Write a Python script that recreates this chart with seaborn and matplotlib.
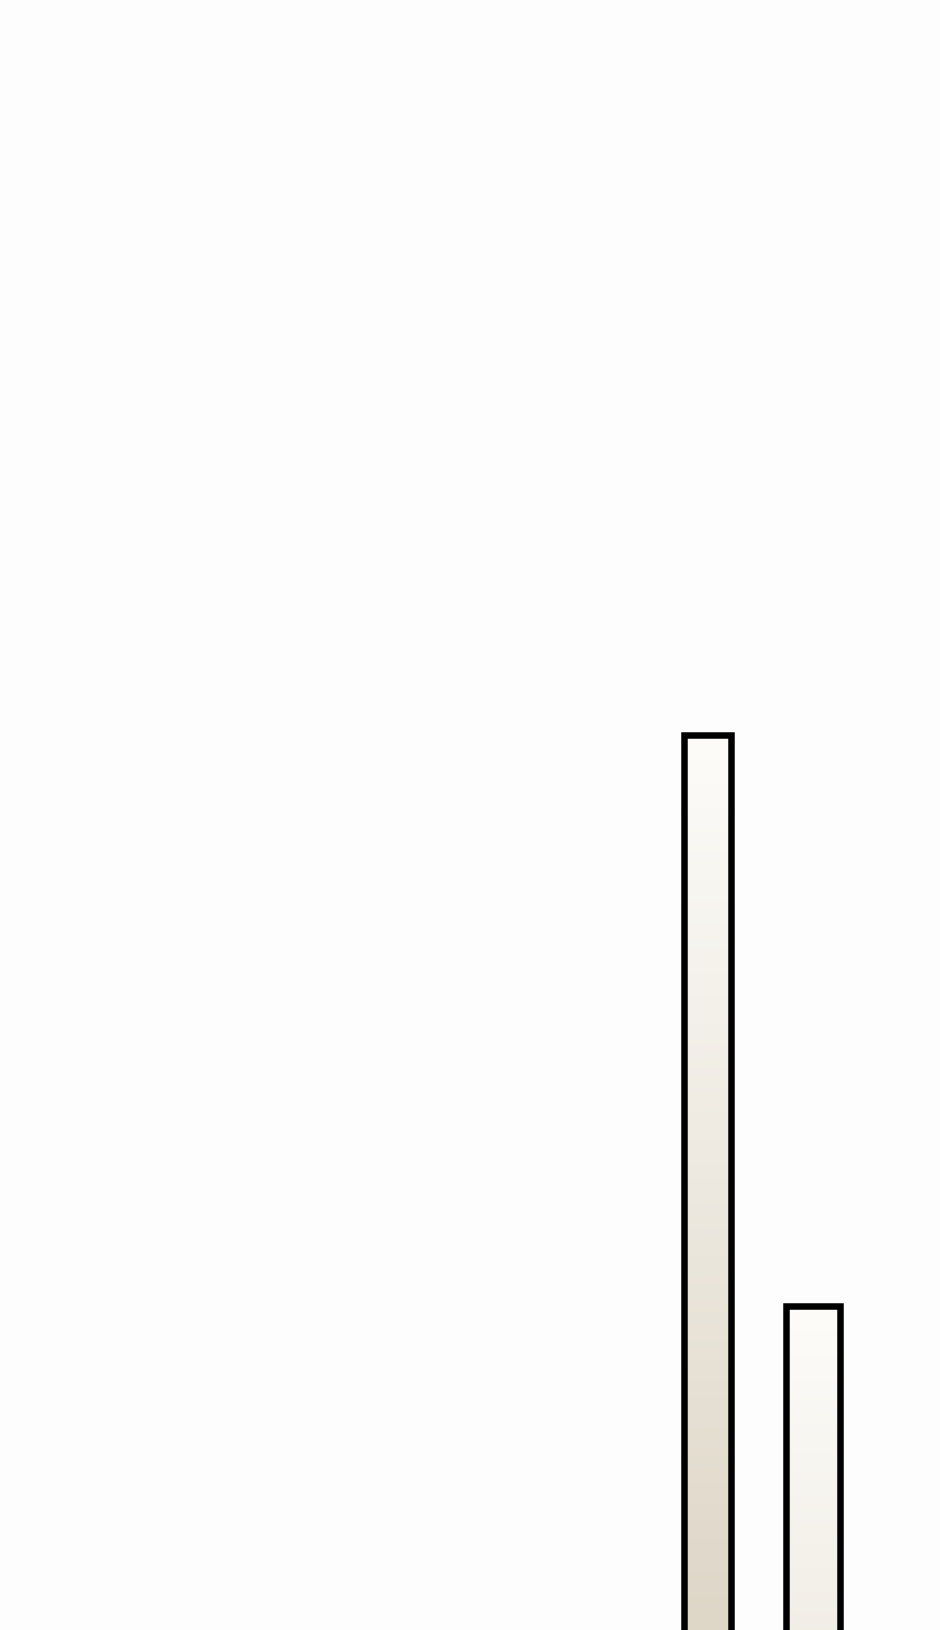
import numpy as np
import pandas as pd
import matplotlib
matplotlib.use("Agg")
import matplotlib.pyplot as plt
import seaborn as sns
from matplotlib.colors import LinearSegmentedColormap, Normalize

# ---- data ----
categories = ["A", "B"]
values = [935, 364]

# ---- style ----
bar_widths = [0.445, 0.51]
bg = "#fdfdfd"
grad_top = "#fdfcf9"
grad_bottom = "#ded6c7"
edge_px = 6.5

sns.set_theme(style="white")
plt.rcParams["font.family"] = ["DejaVu Sans"]

fig = plt.figure(figsize=(9.4, 16.3), dpi=100, facecolor=bg)
ax = fig.add_axes([0, 0, 1, 1])
ax.set_facecolor(bg)

df = pd.DataFrame({"cat": categories, "val": values})
sns.barplot(data=df, x="cat", y="val", ax=ax, color="white",
            edgecolor="black", linewidth=edge_px * 72 / 100, width=0.5)

ylow, yhigh = 40, 1670
ax.set_ylim(ylow, yhigh)
ax.set_xlim(-6.687, 2.197)

cmap = LinearSegmentedColormap.from_list("g", [grad_top, grad_bottom])
span = max(values) - ylow
for p, w in zip(ax.patches, bar_widths):
    cx = p.get_x() + p.get_width() / 2
    p.set_x(cx - w / 2)
    p.set_width(w)
    top = p.get_y() + p.get_height()
    ys = np.linspace(top, 0, 400)
    dist = (top - ys)[:, None]
    img = cmap(Normalize(0, span)(dist))
    im = ax.imshow(img, extent=[p.get_x(), p.get_x() + w, 0, top],
                   aspect="auto", origin="upper", zorder=p.get_zorder() - 0.01,
                   interpolation="bilinear")
    im.set_clip_path(p)
    p.set_facecolor("none")
    p.set_zorder(3)

ax.set_xlim(-6.687, 2.197)
ax.set_ylim(ylow, yhigh)
ax.set_axis_off()

fig.savefig("out.png", dpi=100, facecolor=bg)
